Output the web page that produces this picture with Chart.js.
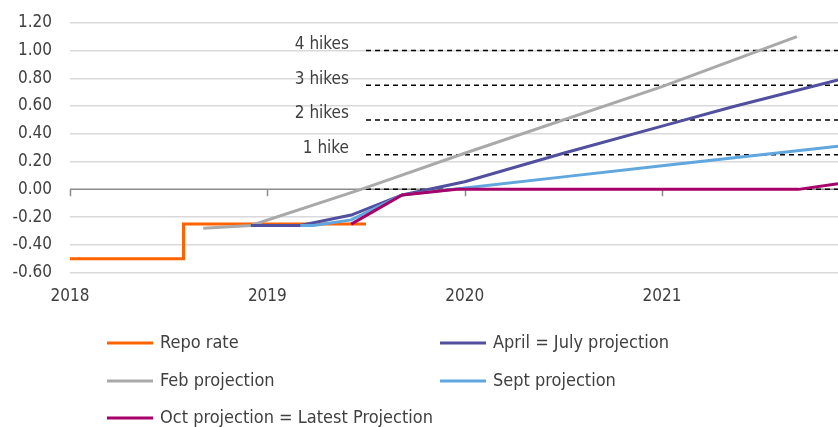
<!DOCTYPE html>
<html>
<head>
<meta charset="utf-8">
<script src="https://cdn.jsdelivr.net/npm/chart.js@4.4.1/dist/chart.umd.min.js"></script>
<style>
  html, body { margin: 0; padding: 0; background: #fff; }
  #wrap { position: relative; width: 838px; height: 427px; }
</style>
</head>
<body>
<div id="wrap"><canvas id="chart"></canvas></div>
<script>
// x values are months since Jan 2018
const yearLabels = ['2018', '2019', '2020', '2021'];
const xMax = 46.7;

const repoX = [0, 6.9, 6.9, 18];
const repoY = [-0.5, -0.5, -0.25, -0.25];

const febX = [8.1, 11, 17.7, 24, 36, 44.2];
const febY = [-0.28, -0.26, 0, 0.26, 0.74, 1.10];

const aprX = [11, 14, 17.1, 20.2, 24, 30, 36, 40.3, 46.7];
const aprY = [-0.26, -0.26, -0.185, -0.04, 0.055, 0.26, 0.455, 0.595, 0.787];

const septX = [14, 14.8, 17.1, 20.2, 24, 30, 36, 46.7];
const septY = [-0.26, -0.26, -0.22, -0.04, 0.01, 0.09, 0.17, 0.31];

const octX = [17.1, 20.2, 23.5, 36, 44.3, 46.7];
const octY = [-0.25, -0.04, 0, 0, 0, 0.04];

const hikeLevels = [1.00, 0.75, 0.50, 0.25, 0.00];
const hikeLabels = ['4 hikes', '3 hikes', '2 hikes', '1 hike'];
const hikeStart = 18;

const FONT = "'DejaVu Sans Condensed', sans-serif";

function pts(xs, ys) {
    return xs.map((x, i) => ({ x: x, y: ys[i] }));
}

function series(label, xs, ys, color, order) {
    return {
        label: label,
        data: pts(xs, ys),
        borderColor: color,
        backgroundColor: color,
        borderWidth: 3,
        pointRadius: 0,
        tension: 0,
        order: order,
        legend: true
    };
}

const datasets = [
    series('Repo rate', repoX, repoY, '#ff6200', 5),
    series('April = July projection', aprX, aprY, '#514f9e', 3),
    series('Feb projection', febX, febY, '#a9a9a9', 4),
    series('Sept projection', septX, septY, '#5fa7de', 2),
    series('Oct projection = Latest Projection', octX, octY, '#a8006a', 1)
];

hikeLevels.forEach(lvl => {
    datasets.push({
        label: 'hike ' + lvl,
        data: [{ x: hikeStart, y: lvl }, { x: xMax, y: lvl }],
        borderColor: '#000',
        borderWidth: 1.5,
        borderDash: [5, 4],
        pointRadius: 0,
        order: 6,
        legend: false
    });
});

// tick marks on the zero line, hike labels and the two-column legend
const extras = {
    id: 'extras',
    beforeDatasetsDraw(chart) {
        const { ctx, scales: { x, y } } = chart;
        const y0 = y.getPixelForValue(0);
        ctx.save();
        ctx.strokeStyle = '#8c8c8c';
        ctx.lineWidth = 1.5;
        ctx.beginPath();
        ctx.moveTo(chart.chartArea.left, y0);
        ctx.lineTo(chart.chartArea.right, y0);
        yearLabels.forEach((l, i) => {
            const px = Math.round(x.getPixelForValue(i * 12)) + 0.5;
            ctx.moveTo(px, y0);
            ctx.lineTo(px, y0 + 7);
        });
        ctx.stroke();
        ctx.restore();
    },
    afterDraw(chart) {
        const { ctx, scales: { x, y } } = chart;
        ctx.save();
        ctx.font = '17px ' + FONT;
        ctx.fillStyle = '#404040';
        ctx.textAlign = 'right';
        ctx.textBaseline = 'middle';
        hikeLabels.forEach((t, i) => {
            ctx.fillText(t, 349, y.getPixelForValue(hikeLevels[i]) - 6);
        });

        // legend
        const items = chart.data.datasets.filter(d => d.legend);
        const cols = [107, 440];
        const rows = [343, 381, 418];
        ctx.font = '18px ' + FONT;
        ctx.textAlign = 'left';
        items.forEach((d, i) => {
            const cx = cols[i % 2];
            const cy = rows[Math.floor(i / 2)];
            ctx.strokeStyle = d.borderColor;
            ctx.lineWidth = 3;
            ctx.beginPath();
            ctx.moveTo(cx, cy);
            ctx.lineTo(cx + 46, cy);
            ctx.stroke();
            ctx.fillStyle = '#404040';
            ctx.fillText(d.label, cx + 53, cy);
        });
        ctx.restore();
    }
};

const chart = new Chart(document.getElementById('chart'), {
    type: 'line',
    data: { datasets: datasets },
    options: {
        responsive: true,
        maintainAspectRatio: false,
        animation: false,
        layout: { padding: { top: 22.7, right: 0, bottom: 0, left: 0 } },
        scales: {
            x: {
                type: 'linear',
                min: 0,
                max: xMax,
                afterBuildTicks: s => { s.ticks = s.ticks.filter(t => t.value % 12 === 0); },
                afterFit: s => { s.height = 154.3; },
                grid: { display: false, drawTicks: false },
                border: { display: false },
                ticks: {
                    stepSize: 12,
                    padding: 14,
                    maxRotation: 0,
                    color: '#404040',
                    font: { family: FONT, size: 17 },
                    callback: v => yearLabels[v / 12]
                }
            },
            y: {
                min: -0.6,
                max: 1.2,
                afterFit: s => { s.width = 70; s.paddingTop = 0; s.paddingBottom = 0; },
                grid: {
                    drawTicks: false,
                    color: ctx => ctx.tick.value === 0 ? 'rgba(0,0,0,0)' : '#d9d9d9',
                    lineWidth: 1.5
                },
                border: { display: false },
                ticks: {
                    stepSize: 0.2,
                    padding: 18,
                    color: '#404040',
                    font: { family: FONT, size: 17 },
                    callback: v => v.toFixed(2)
                }
            }
        },
        plugins: {
            legend: { display: false },
            tooltip: { enabled: false }
        }
    },
    plugins: [extras]
});
</script>
</body>
</html>
